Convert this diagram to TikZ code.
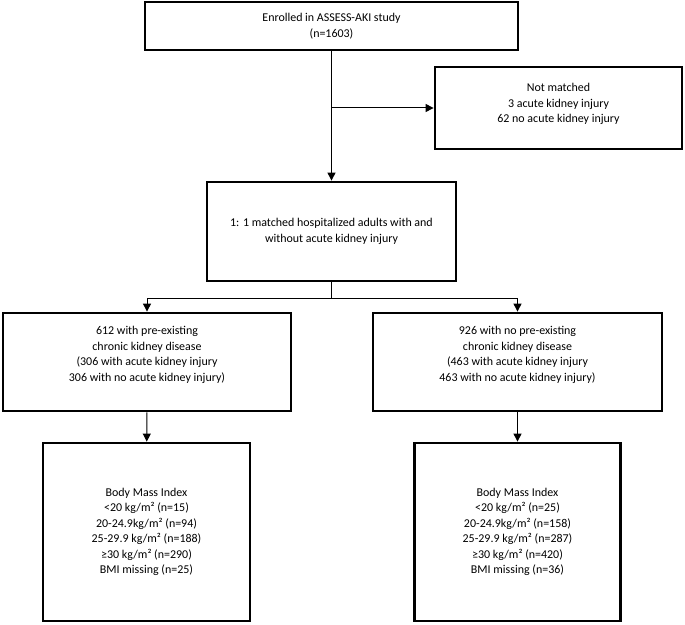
\documentclass[tikz,border=0pt]{standalone}
\usepackage{fontspec}
\setmainfont{Carlito}
\usetikzlibrary{arrows.meta}

\tikzset{
  box/.style={draw, line width=2.8bp, align=center, inner sep=0pt,
    font=\fontsize{12}{15.6}\selectfont},
  flow/.style={line width=1bp, -{Triangle[width=8bp, length=8bp]}}
}

\begin{document}
\begin{tikzpicture}[x=1bp, y=-1bp]

% Manually size the picture
\useasboundingbox (0, 0) rectangle (685, 625);

% Enrolment
\node[box, minimum width=373bp, minimum height=48bp] (enrol) at (331.5, 26)
  {Enrolled in ASSESS-AKI study\\(n=1603)};

% Excluded
\node[box, minimum width=247bp, minimum height=82bp] (nomatch) at (558.5, 108)
  {Not matched\\3 acute kidney injury\\62 no acute kidney injury\\[-5.6bp]};

% Matched cohort
\node[box, minimum width=249bp, minimum height=99bp] (matched) at (331.5, 231.5)
  {1: 1 matched hospitalized adults with and\\without acute kidney injury};

% CKD split
\node[box, minimum width=288bp, minimum height=98bp] (ckd) at (147, 362)
  {612 with pre-existing\\chronic kidney disease\\(306 with acute kidney injury\\306 with no acute kidney injury)\\[0.4bp]};
\node[box, minimum width=289bp, minimum height=98bp] (nockd) at (517.5, 362)
  {926 with no pre-existing\\chronic kidney disease\\(463 with acute kidney injury\\463 with no acute kidney injury)\\[0.4bp]};

% BMI groups
\node[box, minimum width=207bp, minimum height=178bp] (bmickd) at (146.5, 532)
  {Body Mass Index\\<20 kg/m² (n=15)\\20-24.9kg/m² (n=94)\\25-29.9 kg/m² (n=188)\\≥30 kg/m² (n=290)\\BMI missing (n=25)};
\node[box, minimum width=206bp, minimum height=178bp] (bminockd) at (517.5, 532)
  {Body Mass Index\\<20 kg/m² (n=25)\\20-24.9kg/m² (n=158)\\25-29.9 kg/m² (n=287)\\≥30 kg/m² (n=420)\\BMI missing (n=36)};

% Arrows
\draw[flow] (enrol) -- (matched);
\draw[flow] (enrol.south |- nomatch.west) -- (nomatch.west);
\draw[flow] (matched.south) -- ++(0, 16) -| (ckd.north);
\draw[flow] (matched.south) -- ++(0, 16) -| (nockd.north);
\draw[flow] (ckd) -- (bmickd);
\draw[flow] (nockd) -- (bminockd);

\end{tikzpicture}
\end{document}
